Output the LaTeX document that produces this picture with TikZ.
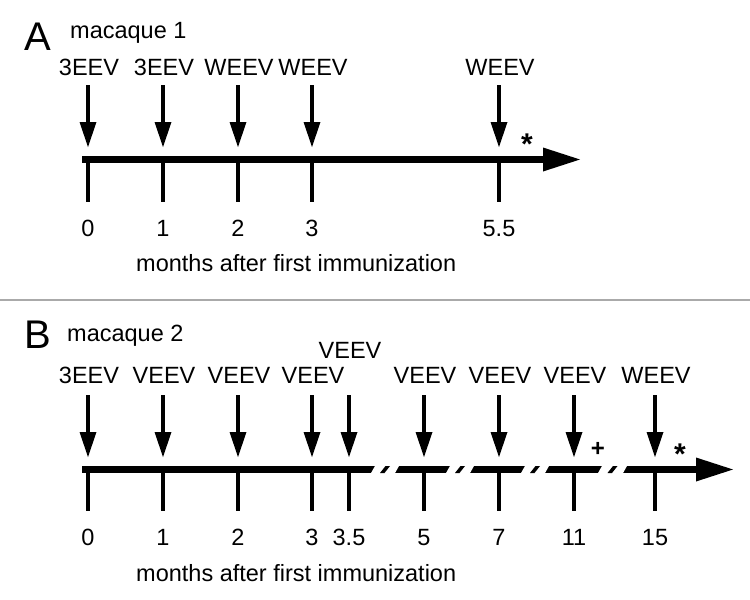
\documentclass[tikz,border=0pt]{standalone}
\usepackage{fontspec}
\setmainfont{Liberation Sans}
\usetikzlibrary{arrows.meta}
\definecolor{rulegray}{RGB}{170,170,170}

\begin{document}
\begin{tikzpicture}[x=1pt,y=-1pt,
    lbl/.style={font=\fontsize{23.5}{27}\selectfont,inner sep=0pt,anchor=base},
    panel/.style={font=\fontsize{40}{44}\selectfont,inner sep=0pt,anchor=base west},
    sym/.style={font=\fontsize{24}{26}\selectfont\bfseries,inner sep=0pt,anchor=base},
    shot/.style={-{Triangle[length=25pt,width=17pt,line width=0pt]},line width=3.5pt,shorten >=12.5pt},
    tick/.style={line width=3.5pt},
    axis/.style={-{Triangle[length=37pt,width=24pt,line width=0pt]},line width=7pt}]
    \useasboundingbox (0,0) rectangle (750,600);

    % A: macaque 1
    \node[panel] (pA) at (24,50) {A};
    \node[lbl,anchor=base west] (mA) at (70,38) {macaque 1};
    \coordinate (sa) at (82,159.5); \coordinate (ea) at (580,159.5);
    \draw[axis] (sa)--(ea);
    \foreach \x/\v/\t [count=\i] in {88/3EEV/0,163/3EEV/1,238/WEEV/2,312/WEEV/3,499/WEEV/5.5}{
      \node[lbl] (va\i) at (\x+1,75) {\v};
      \coordinate (ua\i) at (\x,85);
      \coordinate (ta\i) at (\x,159.5);
      \coordinate (ba\i) at (\x,202);
      \node[lbl] (na\i) at (\x,236) {\t};
      \draw[shot] (ua\i)--(ta\i);
      \draw[tick] (ta\i)--(ba\i);}
    \node[sym,font=\fontsize{30}{32}\selectfont\bfseries] (astA) at (527,154) {*};
    \node[lbl,anchor=base west] (xa) at (136,271) {months after first immunization};

    \coordinate (dl) at (0,300); \coordinate (dr) at (750,300);
    \draw[rulegray,line width=2pt] (dl)--(dr);

    % B: macaque 2
    \node[panel] (pB) at (24,348) {B};
    \node[lbl,anchor=base west] (mB) at (67,341.5) {macaque 2};
    \coordinate (sb) at (82,469.5); \coordinate (eb) at (733,469.5);
    \draw[axis] (sb)--(eb);
    \foreach \a/\b in {373/397,448/472,523/547,600/625}{
      \pgfmathsetmacro\brk{(\a+\b)/2}
      \fill[white] (\a+2.5,465) -- (\b+2.5,465) -- (\b-2.5,474) -- (\a-2.5,474) -- cycle;
      \fill (\brk+0.5,466) -- (\brk+5,466) -- (\brk-0.5,473) -- (\brk-5,473) -- cycle;}
    \foreach \x/\v/\y/\t [count=\i] in {88/3EEV/383.5/0,163/VEEV/383.5/1,238/VEEV/383.5/2,
        312/VEEV/383.5/3,349/VEEV/358/3.5,424/VEEV/383.5/5,499/VEEV/383.5/7,
        574/VEEV/383.5/11,655/WEEV/383.5/15}{
      \node[lbl] (vb\i) at (\x+1,\y) {\v};
      \coordinate (ub\i) at (\x,395);
      \coordinate (tb\i) at (\x,469.5);
      \coordinate (bb\i) at (\x,511);
      \node[lbl] (nb\i) at (\x,545.5) {\t};
      \draw[shot] (ub\i)--(tb\i);
      \draw[tick] (tb\i)--(bb\i);}
    \node[sym] (plusB) at (598,456.5) {+};
    \node[sym,font=\fontsize{30}{32}\selectfont\bfseries] (astB) at (680,464) {*};
    \node[lbl,anchor=base west] (xb) at (136,581) {months after first immunization};
\end{tikzpicture}
\end{document}
